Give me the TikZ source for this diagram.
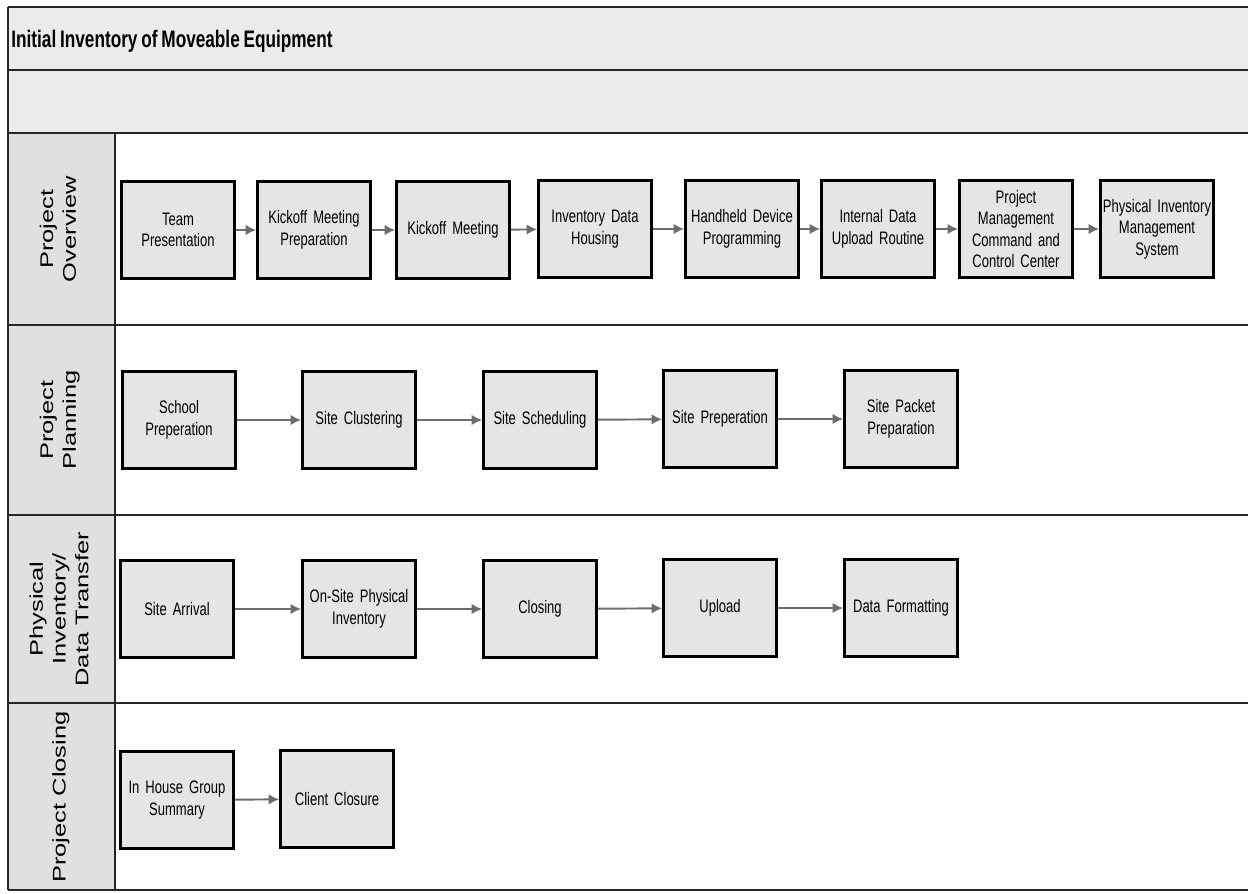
\documentclass[tikz,border=0pt]{standalone}
\usepackage{fontspec}
\setmainfont{Liberation Sans}
\newfontfamily\narrowsans[FakeStretch=0.72,WordSpace=0.8]{Liberation Sans}
\usepackage{graphicx}
\usepackage{tikz}
\usetikzlibrary{arrows.meta}
\usetikzlibrary{positioning}
\usepackage{xcolor}
\definecolor{bandgray}{HTML}{EBEBEB}
\definecolor{lanegray}{HTML}{E0E0E0}
\definecolor{boxgray}{HTML}{E5E5E5}
\definecolor{arrowgray}{HTML}{6C6C6C}

\begin{document}
\begin{tikzpicture}[x=0.02cm,y=-0.02cm,
  task/.style={draw=black,line width=1.6pt,fill=boxgray,minimum width=2.26cm,minimum height=1.94cm,
    text width=2.26cm,align=center,inner sep=0pt,font=\narrowsans\fontsize{10.3}{12.3}\selectfont},
  flow/.style={draw=arrowgray,line width=1.1pt,-{Latex[length=6pt,width=6pt]}},
  lanelabel/.style={rotate=90,inner sep=0pt,font=\fontsize{14.5}{18}\selectfont},
  rule/.style={line width=1.6pt,draw=black!85}]
\useasboundingbox (0,0) rectangle (1248,893);
\fill[white] (0,0) rectangle (1248,893);
% header bands and lane label column
\fill[bandgray] (8,7) rectangle (1260,133);
\fill[lanegray] (8,133) rectangle (115,890);
\node[anchor=west,inner sep=0pt,font=\narrowsans\bfseries\fontsize{13.6}{15}\selectfont] (title) at (11,41) {Initial Inventory of Moveable Equipment};
\draw[rule] (8,7) -- (1260,7);
\draw[rule] (8,70) -- (1260,70);
\draw[rule] (8,133) -- (1260,133);
\draw[rule] (8,325) -- (1260,325);
\draw[rule] (8,515) -- (1260,515);
\draw[rule] (8,703) -- (1260,703);
\draw[rule] (8,890) -- (1260,890);
\draw[rule] (8,7) -- (8,890);
\draw[rule] (115,133) -- (115,890);
% lane names
\node[lanelabel] (overview) at (60,229) {\scalebox{1}[0.72]{\begin{tabular}{@{}c@{}}Project\\Overview\end{tabular}}};
\node[lanelabel] (planning) at (60,420) {\scalebox{1}[0.72]{\begin{tabular}{@{}c@{}}Project\\Planning\end{tabular}}};
\node[lanelabel] (inventory) at (61,609) {\scalebox{1}[0.72]{\begin{tabular}{@{}c@{}}Physical\\Inventory/\\Data Transfer\end{tabular}}};
\node[lanelabel] (closing) at (61,797) {\scalebox{1}[0.72]{Project Closing}};
% project overview
\node[task] (team) at (178,230) {Team\\Presentation};
\node[task] (kickprep) at (314,230) {Kickoff Meeting\\Preparation};
\node[task] (kick) at (453,230) {Kickoff Meeting};
\node[task] (housing) at (595,229) {Inventory Data\\Housing};
\node[task] (handheld) at (742,229) {Handheld Device\\Programming};
\node[task] (upload) at (878,229) {Internal Data\\Upload Routine};
\node[task] (command) at (1016,229) {Project\\Management\\Command and\\Control Center};
\node[task] (pims) at (1157,229) {Physical Inventory\\Management\\System};
\draw[flow] (team) -- (kickprep);
\draw[flow] (kickprep) -- (kick);
\draw[flow] (kick) -- (housing);
\draw[flow] (housing) -- (handheld);
\draw[flow] (handheld) -- (upload);
\draw[flow] (upload) -- (command);
\draw[flow] (command) -- (pims);
% project planning
\node[task] (school) at (179,420) {School\\Preperation};
\node[task] (cluster) at (359,420) {Site Clustering};
\node[task] (sched) at (540,420) {Site Scheduling};
\node[task] (siteprep) at (720,419) {Site Preperation};
\node[task] (packet) at (901,419) {Site Packet\\Preparation};
\draw[flow] (school) -- (cluster);
\draw[flow] (cluster) -- (sched);
\draw[flow] (sched) -- (siteprep);
\draw[flow] (siteprep) -- (packet);
% physical inventory / data transfer
\node[task] (arrival) at (177,609) {Site Arrival};
\node[task] (onsite) at (359,609) {On-Site Physical\\Inventory};
\node[task] (close) at (540,609) {Closing};
\node[task] (up) at (720,608) {Upload};
\node[task] (format) at (901,608) {Data Formatting};
\draw[flow] (arrival) -- (onsite);
\draw[flow] (onsite) -- (close);
\draw[flow] (close) -- (up);
\draw[flow] (up) -- (format);
% project closing
\node[task] (summary) at (177,800) {In House Group\\Summary};
\node[task] (client) at (337,799) {Client Closure};
\draw[flow] (summary) -- (client);
\end{tikzpicture}
\end{document}
